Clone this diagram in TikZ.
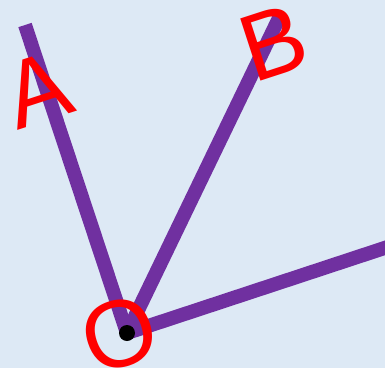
\documentclass[tikz,border=0pt]{standalone}
\usepackage{fontspec}
\setmainfont{Liberation Sans}
\definecolor{fondo}{HTML}{DDE9F5}
\definecolor{morado}{HTML}{7030A0}
\begin{document}
\begin{tikzpicture}[x=1pt, y=-1pt, brazo/.style={line width=14pt, morado}, letra/.style={inner sep=0pt, red, font=\fontsize{95}{95}\selectfont, rotate=18}]
        % fondo
        \useasboundingbox (0,0) rectangle (385,368);
        \fill[fondo] (0,0) rectangle (385,368);
        \clip (0,0) rectangle (385,368);
        % extremos de los brazos
        \coordinate (o) at (127, 333);
        \coordinate (a) at (25, 25);
        \coordinate (b) at (280, 16);
        \coordinate (c) at (430, 233);
        \draw[brazo] (o) -- (a);
        \draw[brazo] (o) -- (b);
        \draw[brazo] (o) -- (c);
        % etiquetas
        \node[letra] (la) at (38, 90) {A};
        \node[letra] (lb) at (274, 43) {B};
        \node[letra] (lo) at (120, 334) {O};
        \node[letra] (lc) at (416, 212) {C};
        % vertice
        \fill[black] (o) circle (8);
    \end{tikzpicture}
\end{document}
